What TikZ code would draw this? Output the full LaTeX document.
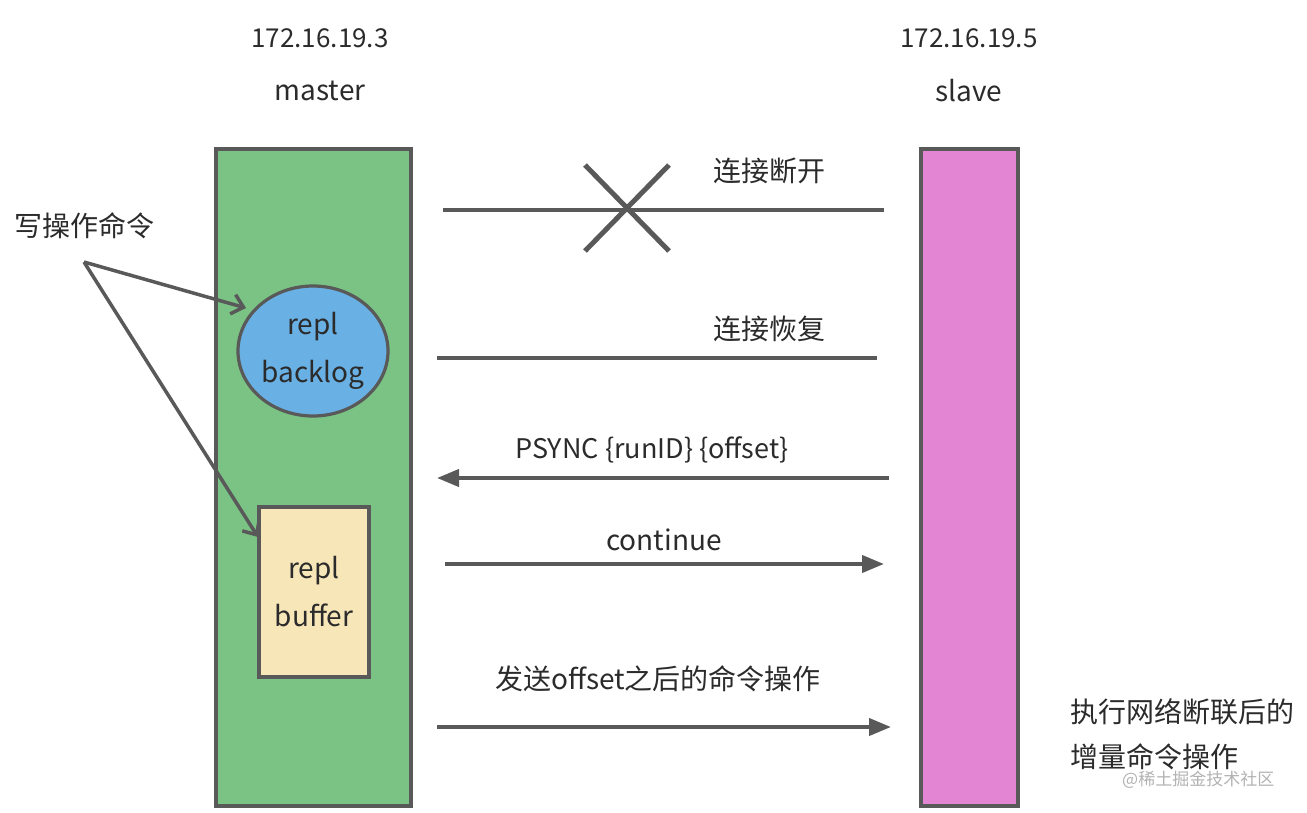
\documentclass[tikz,border=0pt]{standalone}
\usepackage{fontspec}
\setmainfont{Noto Sans CJK SC}
\usetikzlibrary{arrows.meta,shapes.geometric,calc}
\definecolor{edgegray}{HTML}{595959}
\definecolor{mgreen}{HTML}{7AC384}
\definecolor{spink}{HTML}{E485D4}
\definecolor{eblue}{HTML}{69B0E4}
\definecolor{byellow}{HTML}{F7E6B8}
\definecolor{txt}{HTML}{2B2B2B}
\begin{document}
\begin{tikzpicture}[x=1pt,y=-1pt,
  box/.style={draw=edgegray,line width=3.2pt,inner sep=0pt},
  lbl/.style={text=txt,font=\fontsize{28}{32}\selectfont,inner sep=0pt},
  iplbl/.style={text=txt,font=\fontsize{26}{30}\selectfont,inner sep=0pt},
  msg/.style={draw=edgegray,line width=4pt},
  msgarrow/.style={msg,-{Triangle[length=22pt,width=17pt]}},
  wrarrow/.style={draw=edgegray,line width=3.5pt,-{Straight Barb[length=11pt,width=20pt,line width=3.5pt]}}]
\useasboundingbox (0,0) rectangle (1307,812);
% hosts
\node[box,fill=mgreen,minimum width=195pt,minimum height=657pt] (master) at (313.5,477.5) {};
\node[box,fill=spink,minimum width=97pt,minimum height=657pt] (slave) at (969.5,477.5) {};
\node[iplbl] (mip) at (320,38) {172.16.19.3};
\node[lbl] (mname) at (320,91) {master};
\node[iplbl] (sip) at (969,38) {172.16.19.5};
\node[lbl] (sname) at (969,91) {slave};
% inner buffers
\node[box,ellipse,fill=eblue,minimum width=150pt,minimum height=130pt,align=center,text=txt,font=\fontsize{28}{48}\selectfont] (backlog) at (313,351) {repl\\backlog};
\node[box,fill=byellow,minimum width=110pt,minimum height=170pt,align=center,text=txt,font=\fontsize{28}{48}\selectfont] (buffer) at (314,592) {repl\\buffer};
% write commands
\node[lbl] (write) at (84,226) {写操作命令};
\coordinate (wsrc) at (84,262);
\draw[wrarrow] (wsrc) -- (246,308);
\draw[wrarrow] (wsrc) -- (258,537);
% disconnect
\coordinate (d1) at (443,210);
\coordinate (d2) at (884,210);
\draw[msg] (d1) -- (d2);
\node[lbl] (dl) at (769,171) {连接断开};
\coordinate (xc) at (627,208);
\draw[draw=edgegray,line width=5pt] ($(xc)+(-42,-43)$) -- ($(xc)+(42,43)$);
\draw[draw=edgegray,line width=5pt] ($(xc)+(-42,43)$) -- ($(xc)+(42,-43)$);
% reconnect
\coordinate (r1) at (437,358);
\coordinate (r2) at (877,358);
\draw[msg] (r1) -- (r2);
\node[lbl] (rl) at (769,329) {连接恢复};
% psync
\coordinate (p1) at (889,478);
\coordinate (p2) at (437,478);
\draw[msgarrow] (p1) -- (p2);
\node[iplbl,font=\fontsize{27}{30}\selectfont] (pl) at (652,450) {PSYNC \{runID\} \{offset\}};
% continue
\coordinate (c1) at (445,564);
\coordinate (c2) at (884,564);
\draw[msgarrow] (c1) -- (c2);
\node[lbl] (cl) at (664,540) {continue};
% send
\coordinate (s1) at (437,727);
\coordinate (s2) at (891,727);
\draw[msgarrow] (s1) -- (s2);
\node[lbl] (sl) at (658,679) {发送offset之后的命令操作};
% slave note
\node[lbl,anchor=west] (n1) at (1070,712) {执行网络断联后的};
\node[lbl,anchor=west] (n2) at (1070,757) {增量命令操作};
\node[inner sep=0pt,anchor=west,text=black!30,font=\fontsize{17}{20}\selectfont] (wm) at (1122,780) {@稀土掘金技术社区};
\end{tikzpicture}
\end{document}
